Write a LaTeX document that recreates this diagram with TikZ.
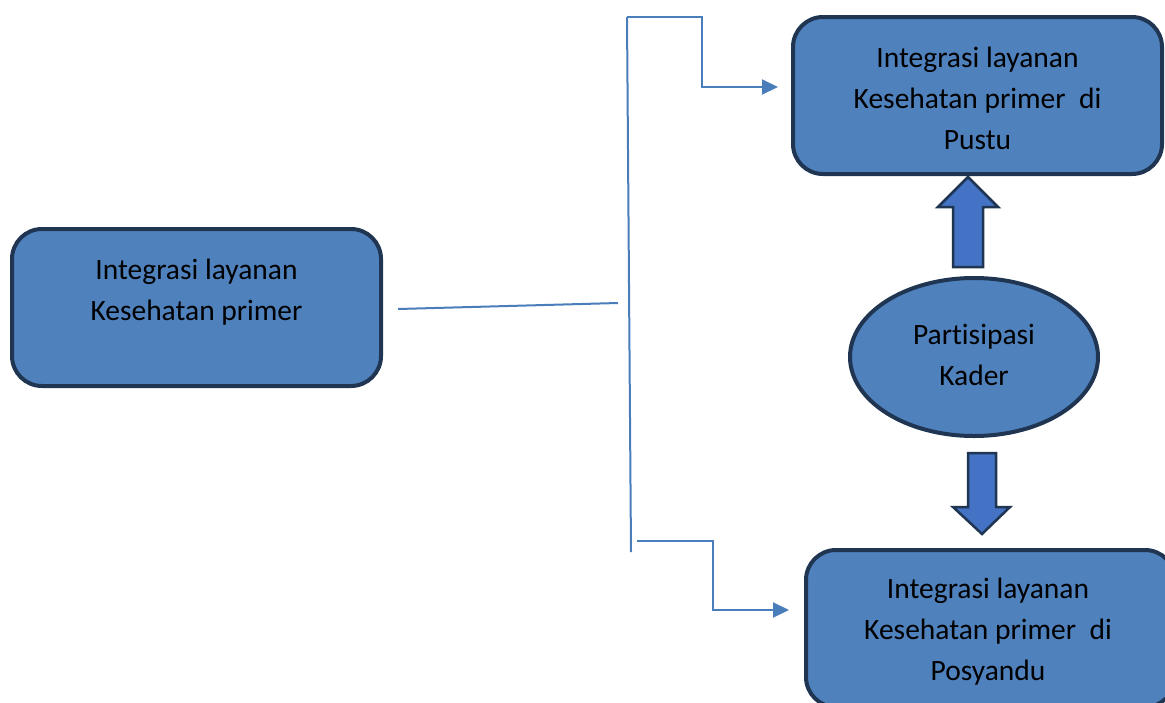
\documentclass[tikz,border=0pt]{standalone}
\usepackage{fontspec}
\setmainfont[Ligatures=CommonOff]{Carlito}
\usetikzlibrary{arrows.meta,shapes.geometric}
\definecolor{boxfill}{HTML}{4F81BD}
\definecolor{boxline}{HTML}{1F3552}
\definecolor{conn}{HTML}{4A7EBB}
\definecolor{arrfill}{HTML}{4472C4}
\tikzset{
  rbox/.style={draw=boxline,fill=boxfill,line width=4pt,rounded corners=30pt,minimum width=369pt,minimum height=157pt,inner sep=0pt},
  txt/.style={align=center,font=\fontsize{29.5}{41}\selectfont,inner sep=0pt},
  connline/.style={draw=conn,line width=2pt},
  connarrow/.style={connline,-{Triangle[length=16pt,width=15pt]}},
  blockarrow/.style={draw=boxline,fill=arrfill,line width=2.5pt,line join=miter}
}
\begin{document}
\begin{tikzpicture}[x=1pt,y=-1pt]
\useasboundingbox (0,0) rectangle (1165,702);
\begin{scope}
\clip (0,0) rectangle (1165,702);
% boxes
\node[rbox] (left) at (196.5,307.5) {};
\node[rbox] (top) at (977.5,95.5) {};
\node[rbox] (bot) at (990.5,628.5) {};
\node[ellipse,draw=boxline,fill=boxfill,line width=4pt,minimum width=248pt,minimum height=158pt,inner sep=0pt] (ell) at (974,357) {};
% texts
\node[txt] (lefttxt) at (196.5,292.5) {Integrasi layanan\\Kesehatan primer};
\node[txt] (toptxt) at (977.5,98) {Integrasi layanan\\Kesehatan primer\ \ di\\Pustu};
\node[txt] (bottxt) at (988,632) {Integrasi layanan\\Kesehatan primer\ \ di\\Posyandu};
\node[txt] (elltxt) at (974,355) {Partisipasi\\Kader};
% block arrows
\draw[blockarrow] (953,267) -- (953,207) -- (938,207) -- (968,177) -- (998,207) -- (983,207) -- (983,267) -- cycle;
\draw[blockarrow] (968,453) -- (996,453) -- (996,507) -- (1010,507) -- (982,534) -- (953,507) -- (968,507) -- cycle;
% connectors
\coordinate (h1) at (398,309);
\coordinate (h2) at (618,303);
\coordinate (vtop) at (627,17);
\coordinate (vbot) at (631,552);
\coordinate (b1) at (637,541);
\coordinate (t3) at (778,87);
\coordinate (b3) at (789,610);
\draw[connline] (h1) -- (h2);
\draw[connline] (vbot) -- (vtop);
\draw[connarrow] (vtop) -- (702,17) -- (702,87) -- (t3);
\draw[connarrow] (b1) -- (713,541) -- (713,610) -- (b3);
\end{scope}
\end{tikzpicture}
\end{document}
